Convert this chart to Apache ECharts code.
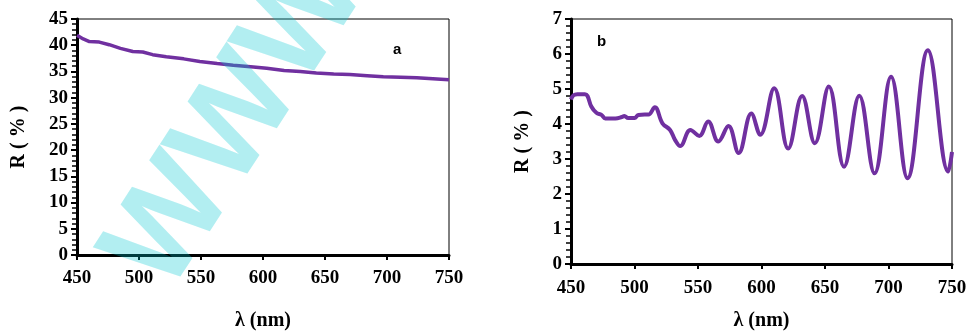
<!DOCTYPE html>
<html>
<head>
<meta charset="utf-8">
<script src="https://cdn.jsdelivr.net/npm/echarts@6/dist/echarts.min.js"></script>
<style>
  html, body { margin: 0; padding: 0; background: #fff; }
  #main { width: 970px; height: 332px; }
</style>
</head>
<body>
<div id="main"></div>
<script>
// panel a
var waveA = [450, 455, 460, 468, 476, 485, 495, 503, 511, 522, 536, 549, 563, 576, 590, 603, 617, 630, 643, 657, 670, 684, 697, 711, 724, 737, 750];
var reflA = [41.9, 41.2, 40.7, 40.6, 40.1, 39.4, 38.8, 38.7, 38.2, 37.8, 37.4, 36.9, 36.5, 36.2, 35.9, 35.6, 35.2, 35.0, 34.7, 34.5, 34.4, 34.2, 34.0, 33.9, 33.8, 33.6, 33.4];

// panel b
var waveB = [450, 452, 455, 461, 463, 466, 470, 474, 477, 485, 490, 492, 495, 500, 503, 508, 511, 516, 522, 528, 532, 536, 544, 551, 558, 566, 574, 582, 592, 599, 610, 621, 632, 642, 653, 665, 677, 689, 702, 715, 731, 747, 750];
var reflB = [4.7, 4.82, 4.85, 4.85, 4.8, 4.5, 4.32, 4.26, 4.16, 4.16, 4.2, 4.23, 4.17, 4.17, 4.26, 4.27, 4.27, 4.48, 4.02, 3.83, 3.54, 3.37, 3.83, 3.66, 4.07, 3.5, 3.94, 3.17, 4.3, 3.69, 5.02, 3.3, 4.8, 3.45, 5.07, 2.78, 4.81, 2.59, 5.35, 2.45, 6.11, 2.64, 3.2];

function pairs(xs, ys) {
    return xs.map(function (x, i) { return [x, ys[i]]; });
}

var serif = 'Liberation Serif';
var tickFont = { fontFamily: serif, fontWeight: 'bold', fontSize: 19, color: '#000' };
var nameFont = { fontFamily: serif, fontWeight: 'bold', fontSize: 20, color: '#000' };
var purple = '#7030A0';

function xAxis(gridIndex, gap, margin) {
    return {
        type: 'value', gridIndex: gridIndex, min: 450, max: 750, interval: 50,
        name: 'λ (nm)', nameLocation: 'middle', nameGap: gap, nameTextStyle: nameFont,
        axisLine: { lineStyle: { color: '#000', width: 3 } },
        axisTick: { length: 5, lineStyle: { color: '#000', width: 2 } },
        axisLabel: Object.assign({ margin: margin }, tickFont),
        splitLine: { show: false }
    };
}

function yAxis(gridIndex, max, interval, gap) {
    return {
        type: 'value', gridIndex: gridIndex, min: 0, max: max, interval: interval,
        name: 'R ( % )', nameLocation: 'middle', nameGap: gap, nameTextStyle: nameFont,
        axisLine: { onZero: false, lineStyle: { color: '#000', width: 3 } },
        axisTick: { length: 6, lineStyle: { color: '#000', width: 2 } },
        minorTick: { show: true, splitNumber: 5, length: 5, lineStyle: { color: '#000', width: 1.5 } },
        axisLabel: Object.assign({ margin: 9 }, tickFont),
        splitLine: { show: false }
    };
}

var option = {
    animation: false,
    grid: [
        { left: 77, right: 521, top: 19, bottom: 77, show: true, borderColor: '#000', borderWidth: 1, containLabel: false, outerBoundsMode: 'none' },
        { left: 571, right: 18, top: 19, bottom: 68, show: true, borderColor: '#000', borderWidth: 1, containLabel: false, outerBoundsMode: 'none' }
    ],
    xAxis: [xAxis(0, 56, 14), xAxis(1, 47, 15)],
    yAxis: [yAxis(0, 45, 5, 48), yAxis(1, 7, 1, 38)],
    series: [
        {
            type: 'line', xAxisIndex: 0, yAxisIndex: 0, showSymbol: false,
            lineStyle: { color: purple, width: 3.5 },
            data: pairs(waveA, reflA)
        },
        {
            type: 'line', xAxisIndex: 1, yAxisIndex: 1, showSymbol: false, smooth: 0.4,
            lineStyle: { color: purple, width: 4 },
            data: pairs(waveB, reflB)
        }
    ],
    graphic: [
        { type: 'text', left: 393, top: 42, style: { text: 'a', font: 'bold 15px "Liberation Sans"', fill: '#000' } },
        { type: 'text', left: 597, top: 34, style: { text: 'b', font: 'bold 15px "Liberation Sans"', fill: '#000' } },
        {
            type: 'text', x: 238, y: 122, rotation: 0.995, z: 100,
            style: {
                text: 'WWW', font: 'bold 130px "Liberation Sans"',
                fill: 'rgba(0,200,210,0.3)', align: 'center', verticalAlign: 'middle'
            }
        }
    ]
};

var myChart = echarts.init(document.getElementById('main'));
myChart.setOption(option);
</script>
</body>
</html>
